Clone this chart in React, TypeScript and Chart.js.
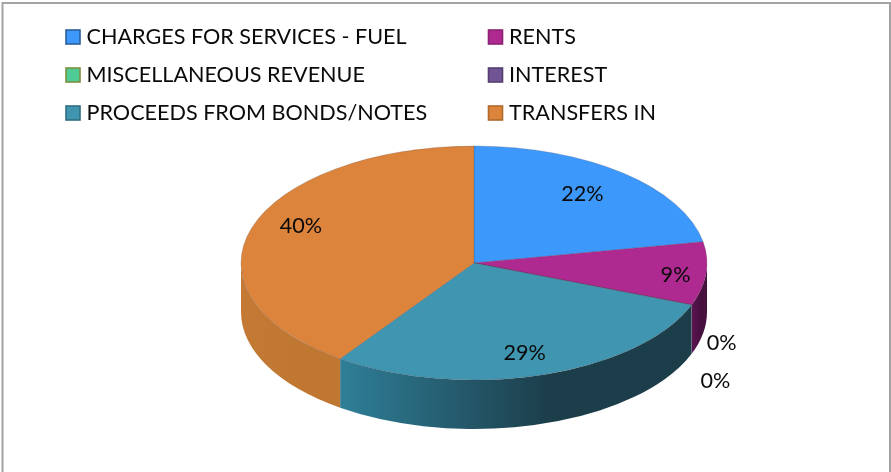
import React, { useEffect, useRef } from "react";
import { Chart, registerables } from "chart.js";

Chart.register(...registerables);

const categories = [
  "CHARGES FOR SERVICES - FUEL",
  "RENTS",
  "MISCELLANEOUS REVENUE",
  "INTEREST",
  "PROCEEDS FROM BONDS/NOTES",
  "TRANSFERS IN",
];
const shares = [22.1, 8.7, 0.02, 0.02, 28.9, 40.26];
const topColors = ["#3d98fb", "#ae2a90", "#4fcb96", "#705496", "#4096b0", "#dc843b"];
const swatchBorders = ["#2c5f9e", "#8c2274", "#7c8f3f", "#54406f", "#2f7080", "#b06a2c"];
const wallStops = [
  ["#2a6fb0", "#2a6fb0"],
  ["#5c1450", "#47103f"],
  ["#3a9a70", "#3a9a70"],
  ["#54406f", "#54406f"],
  ["#2f7f98", "#1c3d4a"],
  ["#c47a34", "#bf7732"],
];
// radial position (share of radius) and angular shift (degrees) of each percentage label
const labelRadius = [0.76, 0.87, 1.26, 1.44, 0.79, 0.81];
const labelShift = [-2, 1, 11.6, 23, 1, 6];

const FONT = "Lato";
const SQUASH = 117 / 233;
const DEPTH = 49;

const pie3d = {
  id: "pie3d",
  beforeDraw(chart: any) {
    const { ctx, width, height } = chart;
    ctx.save();
    ctx.fillStyle = "#ffffff";
    ctx.fillRect(0, 0, width, height);
    ctx.strokeStyle = "#a3a3a3";
    ctx.lineWidth = 2;
    ctx.beginPath();
    ctx.moveTo(2.5, height);
    ctx.lineTo(2.5, 3);
    ctx.lineTo(890, 3);
    ctx.lineTo(890, height);
    ctx.stroke();

    // legend
    ctx.textBaseline = "middle";
    ctx.textAlign = "left";
    ctx.font = `21.6px ${FONT}`;
    chart.data.labels.forEach((label: string, i: number) => {
      const col = i % 2;
      const row = Math.floor(i / 2);
      const x = col === 0 ? 66 : 488.5;
      const y = 37 + row * 38;
      ctx.fillStyle = topColors[i];
      ctx.fillRect(x, y - 7, 14, 14);
      ctx.strokeStyle = swatchBorders[i];
      ctx.lineWidth = 1.6;
      ctx.strokeRect(x, y - 7, 14, 14);
      ctx.fillStyle = "#0a0a0a";
      ctx.fillText(label, x + 20.5, y + 0.5);
    });
    ctx.restore();
  },
  beforeDatasetsDraw(chart: any) {
    const { ctx } = chart;
    const arcs = chart.getDatasetMeta(0).data;
    const { x: cx, y: cy, outerRadius: rx } = arcs[0];
    const ry = rx * SQUASH;
    ctx.save();
    arcs.forEach((arc: any, i: number) => {
      const a0 = Math.max(arc.startAngle, 0);
      const a1 = Math.min(arc.endAngle, Math.PI);
      if (a1 <= a0) return;
      const xa = cx + rx * Math.cos(a0);
      const xb = cx + rx * Math.cos(a1);
      const g = ctx.createLinearGradient(Math.min(xa, xb), 0, Math.max(xa, xb), 0);
      g.addColorStop(0, wallStops[i][0]);
      g.addColorStop(0.6, wallStops[i][1]);
      g.addColorStop(1, wallStops[i][1]);
      ctx.fillStyle = g;
      ctx.beginPath();
      ctx.ellipse(cx, cy, rx, ry, 0, a0, a1);
      ctx.ellipse(cx, cy + DEPTH, rx, ry, 0, a1, a0, true);
      ctx.closePath();
      ctx.fill();
    });
    ctx.restore();
    ctx.save();
    ctx.translate(0, cy);
    ctx.scale(1, SQUASH);
    ctx.translate(0, -cy);
  },
  afterDatasetsDraw(chart: any) {
    const { ctx } = chart;
    ctx.restore();
    const arcs = chart.getDatasetMeta(0).data;
    const values: number[] = chart.data.datasets[0].data;
    const total = values.reduce((s, v) => s + v, 0);
    ctx.save();
    ctx.font = `21.6px ${FONT}`;
    ctx.fillStyle = "#0a0a0a";
    ctx.textAlign = "center";
    ctx.textBaseline = "middle";
    arcs.forEach((arc: any, i: number) => {
      const mid = (arc.startAngle + arc.endAngle) / 2 + (labelShift[i] * Math.PI) / 180;
      const r = arc.outerRadius * labelRadius[i];
      const x = arc.x + r * Math.cos(mid);
      const y = arc.y + r * SQUASH * Math.sin(mid);
      ctx.fillText(`${Math.round((values[i] / total) * 100)}%`, x, y + 1);
    });
    ctx.restore();
  },
};

export default function App() {
  const ref = useRef<HTMLCanvasElement>(null);
  useEffect(() => {
    if (!ref.current) return;
    const chart = new Chart(ref.current, {
      type: "pie",
      data: {
        labels: categories,
        datasets: [
          {
            data: shares,
            backgroundColor: topColors,
            borderColor: "rgba(70,60,70,0.35)",
            borderWidth: 0.8,
            clip: false,
          } as any,
        ],
      },
      options: {
        responsive: false,
        animation: false,
        radius: 233,
        layout: { padding: { top: 54, left: 57, right: 0, bottom: 0 } },
        plugins: { legend: { display: false }, tooltip: { enabled: false } },
      } as any,
      plugins: [pie3d],
    });
    return () => chart.destroy();
  }, []);
  return (
    <div style={{ position: "fixed", left: 0, top: 0 }}>
      <canvas ref={ref} width={891} height={472} style={{ display: "block" }} />
    </div>
  );
}
